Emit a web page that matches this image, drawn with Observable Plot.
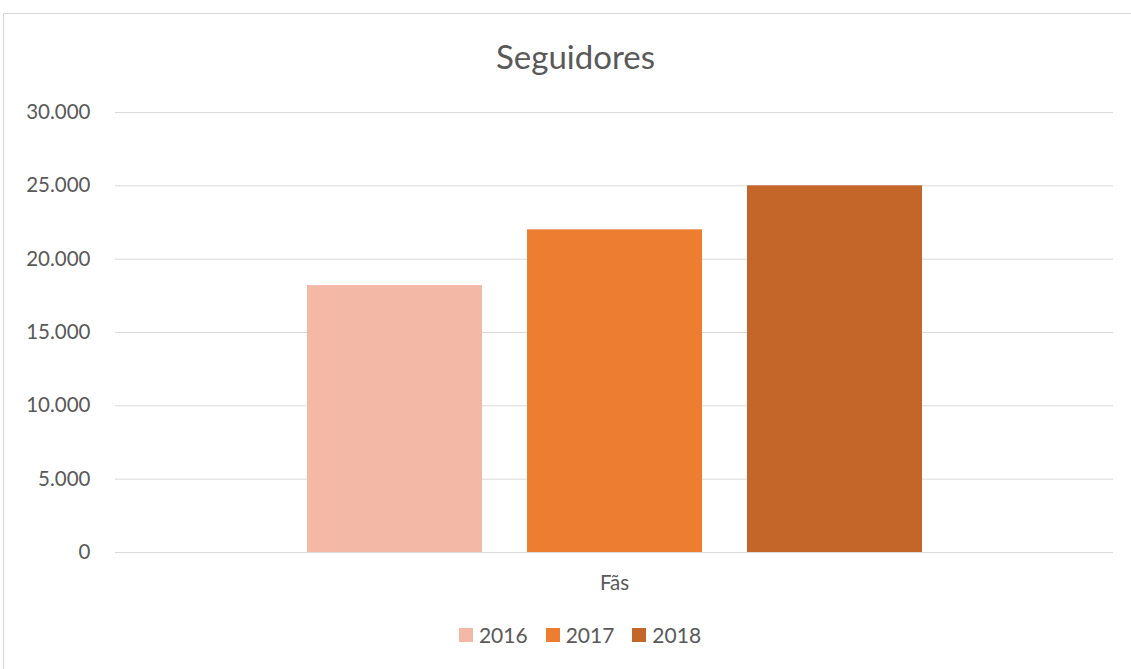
<!DOCTYPE html>
<html>
<head>
<meta charset="utf-8">
<script src="https://cdn.jsdelivr.net/npm/d3@7"></script>
<script src="https://cdn.jsdelivr.net/npm/@observablehq/plot@0.6"></script>
<style>
  html, body { margin: 0; padding: 0; background: #fff; overflow: hidden; }
  body { width: 1131px; height: 669px; position: relative; font-family: Lato, "Open Sans", sans-serif; color: #595959; }
  #frame { position: absolute; left: 3px; top: 13px; width: 1140px; height: 680px; border: 1px solid #d9d9d9; box-sizing: border-box; }
  #title { position: absolute; left: 0; width: 1151px; top: 36px; text-align: center; font-size: 33px; color: #595959; }
  #chart { position: absolute; left: 0; top: 0; }
  #legend { position: absolute; left: 0; width: 1160px; top: 622px; display: flex; justify-content: center; gap: 18px; font-size: 21px; color: #595959; }
  #legend .item { display: flex; align-items: center; gap: 6px; }
  #legend .sw { width: 14px; height: 14px; display: inline-block; }
</style>
</head>
<body>
<div id="frame"></div>
<div id="title">Seguidores</div>
<div id="chart"></div>
<div id="legend"></div>
<script>
const categories = ["Fãs"];
const years = ["2016", "2017", "2018"];
const values = [18200, 22000, 25000];
const colors = ["#F4B9A6", "#ED7D31", "#C4662A"];
const yTicks = [0, 5000, 10000, 15000, 20000, 25000, 30000];

const data = years.map((y, i) => ({category: categories[0], year: y, value: values[i]}));
const fmt = d => d3.format(",")(d).replace(/,/g, ".");

const chart = Plot.plot({
  width: 1131,
  height: 669,
  marginTop: 112,
  marginBottom: 117,
  marginLeft: 115,
  marginRight: 18,
  style: { fontFamily: "Lato, 'Open Sans', sans-serif", fontSize: "20.5px", color: "#595959", background: "transparent" },
  fx: { domain: categories, padding: 0, axis: "bottom", label: null, tickSize: 0, tickPadding: 23 },
  x: { domain: years, axis: null, paddingInner: 0.205, paddingOuter: 0.868 },
  y: { domain: [0, 30000], ticks: yTicks, tickFormat: fmt, tickSize: 0, tickPadding: 25, label: null },
  color: { domain: years, range: colors },
  marks: [
    Plot.gridY(yTicks, { stroke: "#d9d9d9", strokeOpacity: 1, strokeWidth: 1 }),
    Plot.barY(data, { fx: "category", x: "year", y: "value", fill: "year" }),
    Plot.ruleY([0], { stroke: "#d9d9d9", strokeWidth: 1 })
  ]
});
document.getElementById("chart").appendChild(chart);

const legend = document.getElementById("legend");
years.forEach((y, i) => {
  const item = document.createElement("div");
  item.className = "item";
  const sw = document.createElement("span");
  sw.className = "sw";
  sw.style.background = colors[i];
  const t = document.createElement("span");
  t.textContent = y;
  item.appendChild(sw);
  item.appendChild(t);
  legend.appendChild(item);
});
</script>
</body>
</html>
